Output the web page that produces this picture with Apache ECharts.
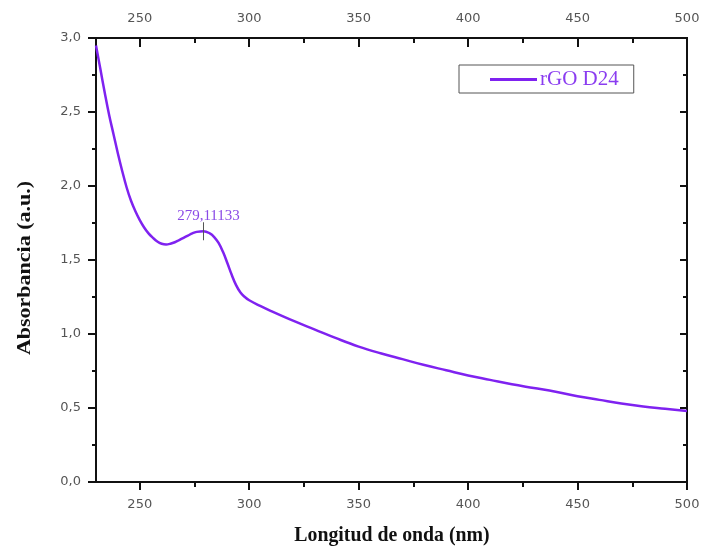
<!DOCTYPE html>
<html>
<head>
<meta charset="utf-8">
<title>rGO D24 – UV-Vis</title>
<script src="https://cdn.jsdelivr.net/npm/echarts@6/dist/echarts.min.js"></script>
<style>
  html, body { margin: 0; padding: 0; background: #fff; }
  #chart { width: 704px; height: 554px; }
</style>
</head>
<body>
<div id="chart"></div>
<script>
// UV-Vis absorbance spectrum of rGO D24
const wavelength = [230, 232, 234, 236, 238, 240, 242, 244, 246, 248, 250, 252, 254, 256, 258, 260,
  262, 264, 266, 268, 270, 272, 274, 276, 279.11133, 282, 284, 286, 288, 290, 292, 294, 296, 298,
  300, 305, 310, 320, 330, 340, 350, 360, 370, 380, 390, 400, 410, 420, 430, 440, 450, 460, 470,
  480, 490, 500];
const absorbance = [2.95, 2.79, 2.63, 2.48, 2.35, 2.22, 2.10, 1.99, 1.90, 1.83, 1.77, 1.72, 1.68,
  1.65, 1.625, 1.61, 1.605, 1.61, 1.62, 1.635, 1.65, 1.665, 1.68, 1.69, 1.695, 1.68, 1.655, 1.615,
  1.555, 1.48, 1.40, 1.33, 1.28, 1.25, 1.228, 1.19, 1.155, 1.09, 1.03, 0.97, 0.915, 0.87, 0.83,
  0.79, 0.755, 0.72, 0.69, 0.66, 0.635, 0.61, 0.58, 0.555, 0.53, 0.51, 0.495, 0.48];

const seriesName = 'rGO D24';
const peakWavelength = 279.11133;
const peakAbsorbance = 1.695;

const xMajorTicks = [250, 300, 350, 400, 450, 500];
const xMinorTicks = [275, 325, 375, 425, 475];

const lineColor = '#7f22f0';
const labelFont = 'DejaVu Sans';
const titleFont = 'Liberation Serif';

const points = wavelength.map((w, i) => [w, absorbance[i]]);

const chart = echarts.init(document.getElementById('chart'), null, { renderer: 'canvas' });

const axisLine = { show: true, lineStyle: { color: '#111', width: 2 } };
const labelStyle = { color: '#555', fontSize: 13, fontFamily: labelFont };

function xAxisDef(position, inside, ticks, length, withLabels) {
  return {
    type: 'value', position: position, min: 230, max: 500,
    axisLine: axisLine,
    splitLine: { show: false },
    axisTick: { show: true, inside: inside, length: length, customValues: ticks,
      lineStyle: { color: '#111', width: 2 } },
    axisLabel: withLabels
      ? Object.assign({ show: true, margin: position === 'top' ? 13 : 16, customValues: ticks,
          formatter: v => String(v) }, labelStyle)
      : { show: false }
  };
}

chart.setOption({
  animation: false,
  backgroundColor: '#fff',
  grid: { left: 96, top: 38, right: 17, bottom: 72, containLabel: false },
  xAxis: [
    xAxisDef('bottom', false, xMajorTicks, 8, true),
    xAxisDef('bottom', false, xMinorTicks, 5, false),
    xAxisDef('top', true, xMajorTicks, 9, true),
    xAxisDef('top', true, xMinorTicks, 5, false)
  ],
  yAxis: [
    {
      type: 'value', position: 'left', min: 0, max: 3, interval: 0.5,
      axisLine: axisLine, splitLine: { show: false },
      axisTick: { show: true, inside: false, length: 8, lineStyle: { color: '#111', width: 2 } },
      minorTick: { show: true, splitNumber: 2, length: 4, lineStyle: { color: '#111', width: 2 } },
      axisLabel: Object.assign({ margin: 15, formatter: v => v.toFixed(1).replace('.', ',') }, labelStyle)
    },
    {
      type: 'value', position: 'right', min: 0, max: 3, interval: 0.5,
      axisLine: axisLine, splitLine: { show: false },
      axisTick: { show: true, inside: true, length: 7, lineStyle: { color: '#111', width: 2 } },
      minorTick: { show: true, splitNumber: 2, length: 4, lineStyle: { color: '#111', width: 2 } },
      axisLabel: { show: false }
    }
  ],
  legend: {
    left: 459, top: 65,
    orient: 'horizontal',
    padding: [4, 15, 3, 31],
    borderColor: '#555', borderWidth: 1,
    icon: 'rect',
    itemWidth: 47, itemHeight: 3, itemGap: 4,
    textStyle: { fontFamily: titleFont, fontSize: 21, color: '#8a3cf0', padding: [0, 0, 0, -2] },
    data: [seriesName]
  },
  series: [{
    name: seriesName,
    type: 'line',
    xAxisIndex: 0, yAxisIndex: 0,
    data: points,
    smooth: 0.4,
    symbol: 'none',
    lineStyle: { color: lineColor, width: 2.5 },
    itemStyle: { color: lineColor },
    markPoint: {
      symbol: 'rect',
      symbolSize: [1, 18],
      itemStyle: { color: '#555' },
      label: {
        show: true, position: 'top', distance: -1, offset: [5, 0],
        fontFamily: titleFont, fontSize: 15, color: '#8a4ae6',
        formatter: p => String(p.data.coord[0]).replace('.', ',')
      },
      data: [{ coord: [peakWavelength, peakAbsorbance] }]
    }
  }],
  graphic: [
    {
      type: 'text',
      x: 392, y: 535,
      scaleX: 0.9,
      style: {
        text: 'Longitud de onda (nm)',
        font: 'bold 22px "Liberation Serif"',
        fill: '#111', align: 'center', verticalAlign: 'middle'
      }
    },
    {
      type: 'text',
      x: 25, y: 268,
      rotation: Math.PI / 2,
      scaleY: 0.9,
      style: {
        text: 'Absorbancia (a.u.)',
        font: 'bold 22px "Liberation Serif"',
        fill: '#111', align: 'center', verticalAlign: 'middle'
      }
    }
  ]
});
</script>
</body>
</html>
